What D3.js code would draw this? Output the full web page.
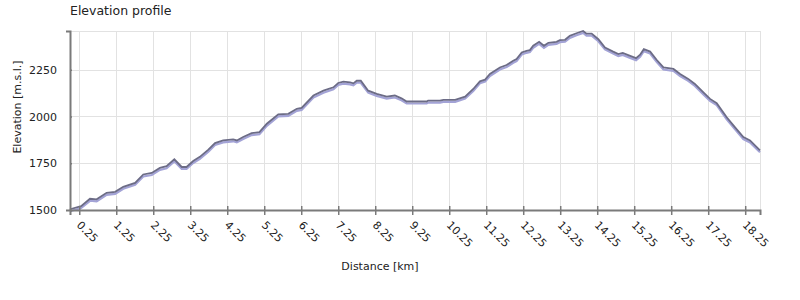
<!DOCTYPE html>
<html>
<head>
<meta charset="utf-8">
<script src="https://cdn.jsdelivr.net/npm/d3@7"></script>
<style>
  body { margin: 0; background: #fff; }
  text { font-family: "DejaVu Sans", sans-serif; fill: #222; }
</style>
</head>
<body>
<div id="chart"></div>
<script>

// distance along the track (km) and elevation (m)
var distance = [0.00, 0.30, 0.54, 0.72, 0.99, 1.22, 1.44, 1.76, 1.98, 2.21, 2.43, 2.61, 2.82, 3.02, 3.15, 3.33,
  3.51, 3.74, 3.92, 4.14, 4.41, 4.51, 4.68, 4.91, 5.12, 5.32, 5.63, 5.90, 6.13, 6.26, 6.58, 6.85,
  7.12, 7.25, 7.39, 7.57, 7.66, 7.75, 7.86, 8.06, 8.29, 8.56, 8.78, 8.96, 9.10, 9.64, 9.68, 10.00,
  10.09, 10.41, 10.68, 10.90, 11.08, 11.22, 11.35, 11.62, 11.80, 11.98, 12.07, 12.21, 12.34, 12.43,
  12.52, 12.68, 12.81, 12.93, 13.15, 13.24, 13.38, 13.51, 13.69, 13.87, 13.96, 14.10, 14.28, 14.46,
  14.68, 14.82, 14.94, 15.14, 15.30, 15.41, 15.51, 15.68, 15.86, 16.04, 16.31, 16.49, 16.71, 16.89,
  17.12, 17.30, 17.48, 17.75, 17.97, 18.20, 18.38, 18.65];
var elevation = [1504, 1521, 1560, 1557, 1592, 1597, 1624, 1645, 1690, 1698, 1725, 1734, 1771, 1730, 1730, 1762,
  1784, 1823, 1858, 1872, 1878, 1872, 1890, 1911, 1916, 1961, 2011, 2014, 2041, 2046, 2112, 2138,
  2156, 2179, 2186, 2182, 2177, 2191, 2191, 2138, 2121, 2106, 2112, 2097, 2080, 2080, 2085, 2085,
  2089, 2089, 2106, 2147, 2188, 2197, 2227, 2262, 2275, 2298, 2307, 2342, 2351, 2355,
  2378, 2399, 2378, 2394, 2399, 2408, 2410, 2431, 2445, 2457, 2443, 2443, 2413, 2369,
  2347, 2334, 2340, 2324, 2312, 2330, 2360, 2347, 2302, 2262, 2254, 2227, 2201, 2174,
  2129, 2094, 2071, 1996, 1943, 1890, 1872, 1819];

var xTicks = [0.25, 1.25, 2.25, 3.25, 4.25, 5.25, 6.25, 7.25, 8.25, 9.25, 10.25, 11.25, 12.25, 13.25, 14.25, 15.25, 16.25, 17.25, 18.25];
var yTicks = [1500, 1750, 2000, 2250];

var margin = {top: 31, right: 40, bottom: 90, left: 70},
    width = 800 - margin.left - margin.right,
    height = 300 - margin.top - margin.bottom;

var svg = d3.select("#chart")
  .append("svg")
    .attr("width", 800)
    .attr("height", 300)
  .append("g")
    .attr("transform", "translate(" + margin.left + "," + margin.top + ")");

var data = distance.map(function(d, i) { return {km: d, elev: elevation[i]}; });

var x = d3.scaleLinear()
  .domain([0, d3.max(distance)])
  .range([0, width]);

var y = d3.scaleLinear()
  .domain([1500, d3.max(elevation)])
  .range([height, 0]);

// grid + frame
svg.append("g")
  .selectAll("line.v")
  .data(xTicks.concat([d3.max(distance)]))
  .enter().append("line")
    .attr("x1", function(d) { return Math.round(x(d)) + 0.5; })
    .attr("x2", function(d) { return Math.round(x(d)) + 0.5; })
    .attr("y1", 0)
    .attr("y2", height)
    .attr("stroke", "#e2e2e2");

svg.append("g")
  .selectAll("line.h")
  .data(yTicks.concat([d3.max(elevation)]))
  .enter().append("line")
    .attr("x1", 0)
    .attr("x2", width)
    .attr("y1", function(d) { return Math.round(y(d)) + 0.5; })
    .attr("y2", function(d) { return Math.round(y(d)) + 0.5; })
    .attr("stroke", "#e2e2e2");

// profile line with a lighter shadow under it
var line = d3.line()
  .x(function(d) { return x(d.km); })
  .y(function(d) { return y(d.elev); });

svg.append("path")
  .datum(data)
  .attr("transform", "translate(0,2)")
  .attr("fill", "none")
  .attr("stroke", "#a3a3d6")
  .attr("stroke-width", 2.2)
  .attr("d", line);

svg.append("path")
  .datum(data)
  .attr("fill", "none")
  .attr("stroke", "#6c6c86")
  .attr("stroke-width", 1.8)
  .attr("d", line);

// axes
var xAxis = svg.append("g")
  .attr("transform", "translate(0," + height + ")")
  .call(d3.axisBottom(x).tickValues(xTicks).tickSize(5).tickFormat(d3.format(".2f")));

xAxis.selectAll(".tick line").attr("y1", -4);
xAxis.selectAll("text")
  .attr("text-anchor", "start")
  .attr("transform", "translate(-1,13) rotate(45)")
  .attr("x", 0)
  .attr("y", 0)
  .attr("dy", "0.35em");

var yAxis = svg.append("g")
  .call(d3.axisLeft(y).tickValues(yTicks).tickSize(4).tickFormat(d3.format("d")));

yAxis.selectAll(".tick line").attr("x2", 2);
yAxis.selectAll("text").attr("x", -13);

svg.selectAll(".domain").attr("stroke", "#7a7a7a").attr("stroke-width", 2);
svg.selectAll(".tick line").attr("stroke", "#7a7a7a").attr("stroke-width", 1.5);
svg.selectAll(".tick text").style("font-size", "11px").style("font-family", "DejaVu Sans").attr("fill", "#222");

// labels
svg.append("text")
  .attr("x", 0)
  .attr("y", -16)
  .style("font-size", "12.5px")
  .text("Elevation profile");

svg.append("text")
  .attr("text-anchor", "middle")
  .attr("x", 380 - margin.left)
  .attr("y", height + 60)
  .style("font-size", "11px")
  .text("Distance [km]");

svg.append("text")
  .attr("text-anchor", "middle")
  .attr("transform", "translate(" + (-margin.left + 21) + "," + (107 - margin.top) + ") rotate(-90)")
  .style("font-size", "11px")
  .text("Elevation [m.s.l.]");

</script>
</body>
</html>
